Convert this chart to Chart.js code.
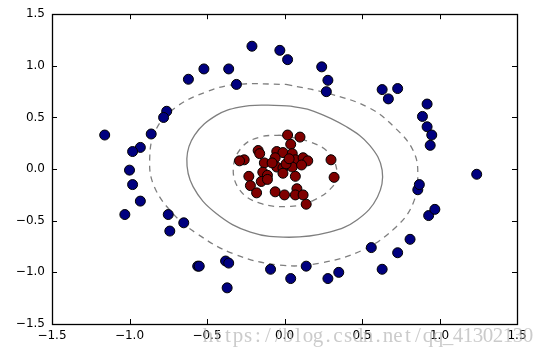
<!DOCTYPE html>
<html>
<head>
<meta charset="utf-8">
<script src="https://cdn.jsdelivr.net/npm/chart.js@4/dist/chart.umd.min.js"></script>
<style>
  html, body { margin: 0; padding: 0; background: #fff; }
  canvas { display: block; }
</style>
</head>
<body>
<canvas id="chart" width="545" height="354"></canvas>
<script>
// outer ring (class 0)
const blueX = [-1.16, -0.21, -0.03, 0.02, -0.62, -0.52, -0.36, -0.31, -0.76, -0.78, -0.86, -0.93, -0.98, -1.00, -0.98, -0.93, -1.03, -0.75, -0.65, -0.74, -0.56, -0.55, -0.38, -0.36, -0.37, -0.09, 0.04, 0.14, 0.28, 0.35, 0.56, 0.63, 0.73, 0.81, 0.93, 0.97, 0.86, 0.87, 1.24, 0.24, 0.28, 0.27, 0.63, 0.67, 0.73, 0.92, 0.89, 0.92, 0.95, 0.94];
const blueY = [0.33, 1.19, 1.15, 1.06, 0.87, 0.97, 0.97, 0.82, 0.56, 0.50, 0.34, 0.21, 0.17, -0.01, -0.15, -0.31, -0.44, -0.44, -0.52, -0.60, -0.94, -0.94, -0.89, -0.91, -1.15, -0.97, -1.06, -0.94, -1.06, -1.00, -0.76, -0.97, -0.81, -0.68, -0.45, -0.39, -0.20, -0.15, -0.05, 0.99, 0.86, 0.75, 0.77, 0.68, 0.78, 0.63, 0.51, 0.41, 0.33, 0.23];

// inner cluster (class 1)
const redX = [0.02, 0.10, 0.04, -0.17, -0.16, -0.05, -0.01, 0.05, -0.26, -0.29, -0.06, -0.13, 0.07, 0.12, 0.15, 0.30, -0.05, -0.01, 0.05, 0.01, 0.11, -0.14, -0.11, -0.01, 0.07, -0.23, 0.32, -0.15, -0.11, -0.22, -0.18, -0.06, 0.00, 0.08, 0.07, 0.12, 0.14, 0.03, -0.08];
const redY = [0.33, 0.31, 0.24, 0.18, 0.15, 0.17, 0.16, 0.15, 0.09, 0.08, 0.11, 0.06, 0.09, 0.11, 0.08, 0.09, 0.02, 0.01, 0.02, 0.05, 0.04, -0.03, -0.06, -0.04, -0.07, -0.07, -0.08, -0.12, -0.10, -0.16, -0.23, -0.22, -0.25, -0.19, -0.25, -0.25, -0.34, 0.10, 0.06];

// contour levels
const outerX = [0.01, 0.29, 0.55, 0.72, 0.83, 0.86, 0.83, 0.72, 0.51, 0.23, -0.03, -0.33, -0.57, -0.72, -0.84, -0.87, -0.83, -0.70, -0.50, -0.31];
const outerY = [0.82, 0.73, 0.59, 0.39, 0.18, -0.04, -0.33, -0.56, -0.78, -0.91, -0.93, -0.82, -0.62, -0.43, -0.17, 0.09, 0.38, 0.60, 0.75, 0.82];
const midX = [0.04, 0.19, 0.40, 0.55, 0.63, 0.60, 0.47, 0.29, 0.03, -0.22, -0.44, -0.59, -0.63, -0.58, -0.44, -0.29, -0.12];
const midY = [0.61, 0.56, 0.41, 0.23, -0.01, -0.27, -0.49, -0.61, -0.66, -0.61, -0.43, -0.17, 0.10, 0.33, 0.52, 0.60, 0.62];
const innerX = [-0.03, 0.17, 0.29, 0.34, 0.31, 0.19, 0.04, -0.16, -0.29, -0.33, -0.27, -0.16];
const innerY = [0.33, 0.26, 0.15, -0.04, -0.17, -0.30, -0.36, -0.33, -0.20, 0.02, 0.22, 0.31];

const tickVals = [-1.5, -1.0, -0.5, 0.0, 0.5, 1.0, 1.5];
const watermark = "https://blog.csdn.net/qq_41302130";

function pts(xs, ys) { return xs.map((x, i) => ({ x: x, y: ys[i] })); }
function loop(xs, ys) { const p = pts(xs, ys); p.push(p[0]); return p; }
function fmt(v) { const s = Math.abs(v).toFixed(1); return v < 0 ? "\u2212" + s : s; }

Chart.defaults.font.family = "'DejaVu Sans', sans-serif";
Chart.defaults.font.size = 12;
Chart.defaults.color = "#000";

const frame = {
  id: "frame",
  afterDraw(chart) {
    const { ctx, chartArea: a, scales } = chart;
    ctx.save();
    ctx.strokeStyle = "#000";
    ctx.lineWidth = 1;
    ctx.beginPath();
    tickVals.forEach(v => {
      const px = Math.round(scales.x.getPixelForValue(v)) + 0.5;
      const py = Math.round(scales.y.getPixelForValue(v)) + 0.5;
      ctx.moveTo(px, a.bottom); ctx.lineTo(px, a.bottom - 5);
      ctx.moveTo(px, a.top); ctx.lineTo(px, a.top + 5);
      ctx.moveTo(a.left, py); ctx.lineTo(a.left + 5, py);
      ctx.moveTo(a.right, py); ctx.lineTo(a.right - 5, py);
    });
    ctx.stroke();
    ctx.lineWidth = 1.3;
    ctx.strokeRect(Math.round(a.left) + 0.5, Math.round(a.top) + 0.5, Math.round(a.right - a.left), Math.round(a.bottom - a.top));
    // blog watermark
    ctx.fillStyle = "rgba(175,175,175,0.65)";
    ctx.font = "21px 'Liberation Serif', serif";
    ctx.textAlign = "center";
    ctx.textBaseline = "alphabetic";
    for (let i = 0; i < watermark.length; i++) {
      ctx.fillText(watermark[i], 208 + i * 10, 342);
    }
    ctx.restore();
  }
};

const lineGray = "#7f7f7f";

new Chart(document.getElementById("chart"), {
  type: "scatter",
  data: {
    datasets: [
      { data: pts(redX, redY), backgroundColor: "#7f0000", borderColor: "#000", borderWidth: 1, pointRadius: 5, order: 1 },
      { data: pts(blueX, blueY), backgroundColor: "#00007f", borderColor: "#000", borderWidth: 1, pointRadius: 5, order: 2 },
      { data: loop(outerX, outerY), showLine: true, pointRadius: 0, borderColor: lineGray, borderWidth: 1.3, borderDash: [6, 5], tension: 0.4, order: 3 },
      { data: loop(midX, midY), showLine: true, pointRadius: 0, borderColor: lineGray, borderWidth: 1.3, tension: 0.4, order: 3 },
      { data: loop(innerX, innerY), showLine: true, pointRadius: 0, borderColor: lineGray, borderWidth: 1.3, borderDash: [6, 5], tension: 0.4, order: 3 }
    ]
  },
  options: {
    responsive: false,
    animation: false,
    layout: { padding: { top: 14, right: 28, left: 0, bottom: 0 } },
    plugins: { legend: { display: false }, tooltip: { enabled: false } },
    scales: {
      x: {
        min: -1.5, max: 1.5,
        grid: { display: false, drawTicks: false },
        border: { display: false },
        ticks: { stepSize: 0.5, padding: 5, maxRotation: 0, callback: v => fmt(v) },
        afterFit: s => { s.height = 30; }
      },
      y: {
        min: -1.5, max: 1.5,
        grid: { display: false, drawTicks: false },
        border: { display: false },
        ticks: { stepSize: 0.5, padding: 7, callback: v => fmt(v) },
        afterFit: s => { s.width = 52; }
      }
    }
  },
  plugins: [frame]
});
</script>
</body>
</html>
